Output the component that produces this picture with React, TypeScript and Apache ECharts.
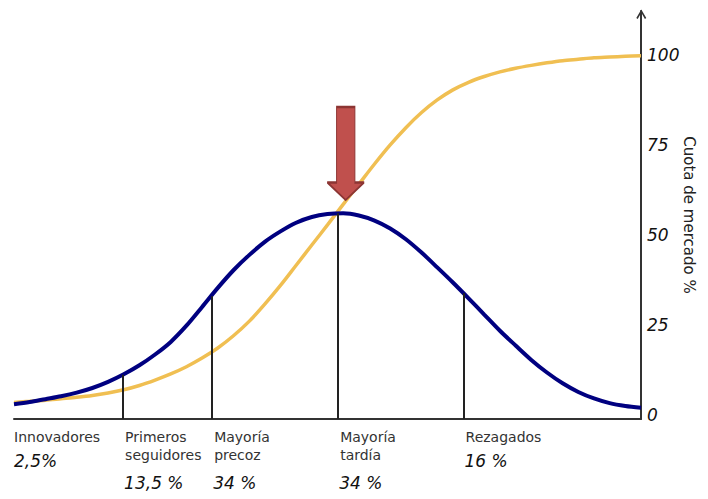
import React, { useEffect, useRef } from "react";
import * as echarts from "echarts";

// Time axis samples (0-100)
const TIME = [0, 2.5, 5, 7.5, 10, 12.5, 15, 17.5, 20, 22.5, 25, 27.5, 30, 32.5, 35, 37.5, 40, 42.5, 45, 47.5, 50, 52.5, 55, 57.5, 60, 62.5, 65, 67.5, 70, 72.5, 75, 77.5, 80, 82.5, 85, 87.5, 90, 92.5, 95, 97.5, 100];
// Adopter distribution curve (bell)
const ADOPTERS = [3.0, 3.6, 4.4, 5.2, 6.2, 7.5, 9.2, 11.3, 13.8, 16.8, 20.3, 24.8, 30.0, 35.3, 40.2, 44.4, 48.1, 51.0, 53.4, 55.0, 55.8, 56.0, 55.4, 54.0, 51.8, 48.8, 45.1, 41.0, 36.8, 32.4, 27.9, 23.4, 19.3, 15.3, 11.8, 8.8, 6.4, 4.6, 3.3, 2.5, 2.0];
// Cumulative market share (S curve)
const MARKET_SHARE = [3.5, 3.8, 4.1, 4.5, 4.9, 5.4, 6.1, 7.0, 8.2, 9.7, 11.4, 13.4, 15.8, 18.6, 22.0, 26.0, 30.8, 36.0, 41.6, 47.2, 52.8, 58.5, 64.1, 69.7, 75.0, 79.8, 84.0, 87.5, 90.3, 92.4, 94.0, 95.3, 96.3, 97.1, 97.8, 98.4, 98.8, 99.2, 99.4, 99.6, 99.8];

// Segments
const SEG_START = [0, 17.4, 31.6, 51.7, 71.7];
const SEG_NAMES = ["Innovadores", "Primeros\nseguidores", "Mayoría\nprecoz", "Mayoría\ntardía", "Rezagados"];
const SEG_SHARES = ["2,5%", "13,5 %", "34 %", "34 %", "16 %"];
// boundary lines (x, height on the bell curve)
const DIV_X = [17.4, 31.6, 51.7, 71.7];
const DIV_Y = [11.2, 33.0, 56.0, 33.8];

const Y_TICKS = [0, 25, 50, 75, 100];
const ARROW_AT = [52.9, 59.7];

const Y_MIN = -1.11;
const Y_MAX = 112.2;

export default function App() {
  const ref = useRef<HTMLDivElement>(null);
  useEffect(() => {
    document.body.style.margin = "0";
    const chart = echarts.init(ref.current!, null, { renderer: "svg" });
    const font = "DejaVu Sans";
    const option: any = {
      animation: false,
      backgroundColor: "#ffffff",
      grid: { left: 14, right: 67, top: 11, bottom: 80, containLabel: false, outerBoundsMode: "none" },
      xAxis: {
        type: "value",
        min: 0,
        max: 100,
        axisLine: { onZero: false, lineStyle: { color: "#333", width: 2 } },
        axisTick: { show: false },
        splitLine: { show: false },
        axisLabel: {
          customValues: SEG_START,
          align: "left",
          verticalAlign: "top",
          margin: 9,
          formatter: (v: number) => {
            const i = SEG_START.indexOf(v);
            if (i < 0) return "";
            const two = SEG_NAMES[i].includes("\n");
            const sfx = i === 0 ? "" : "s";
            const names = SEG_NAMES[i].split("\n").map((s) => `{n${sfx}|${s}}`).join("\n");
            return `${names}\n{${two ? "p2" : "p1"}${sfx}|${SEG_SHARES[i]}}`;
          },
          rich: {
            n: { fontFamily: font, fontSize: 14, color: "#333", lineHeight: 18 },
            ns: { fontFamily: font, fontSize: 14, color: "#333", lineHeight: 18, padding: [0, 0, 0, 2] },
            p1: { fontFamily: font, fontSize: 17, fontStyle: "italic", color: "#111", lineHeight: 30 },
            p1s: { fontFamily: font, fontSize: 17, fontStyle: "italic", color: "#111", lineHeight: 30, padding: [0, 0, 0, 1] },
            p2s: { fontFamily: font, fontSize: 17, fontStyle: "italic", color: "#111", lineHeight: 38, padding: [0, 0, 0, 1] },
          },
        },
      },
      yAxis: {
        type: "value",
        position: "right",
        min: Y_MIN,
        max: Y_MAX,
        name: "Cuota de mercado %",
        nameLocation: "middle",
        nameRotate: -90,
        nameGap: 40,
        nameMoveOverlap: false,
        nameTextStyle: { fontFamily: font, fontSize: 15, color: "#222" },
        axisLine: { show: true, onZero: false, lineStyle: { color: "#333", width: 2 } },
        axisTick: { show: false },
        splitLine: { show: false },
        axisLabel: {
          customValues: Y_TICKS,
          fontFamily: font,
          fontSize: 17,
          fontStyle: "italic",
          color: "#111",
          margin: 6,
        },
      },
      graphic: [
        {
          type: "polyline",
          shape: { points: [[637, 18.5], [641.3, 11], [645.6, 18.5]] },
          style: { stroke: "#333", lineWidth: 1.6, fill: "none" },
          z: 10,
        },
      ],
      series: [
        {
          type: "line",
          data: TIME.map((x, i) => [x, MARKET_SHARE[i]]),
          smooth: 0.3,
          showSymbol: false,
          lineStyle: { color: "#f0bf52", width: 3.5 },
          z: 2,
        },
        {
          type: "line",
          data: TIME.map((x, i) => [x, ADOPTERS[i]]),
          smooth: 0.3,
          showSymbol: false,
          lineStyle: { color: "#000080", width: 4 },
          z: 3,
          markLine: {
            silent: true,
            symbol: "none",
            label: { show: false },
            lineStyle: { color: "#222", width: 2, type: "solid" },
            data: DIV_X.map((x, i) => [
              { coord: [x, Y_MIN] },
              { coord: [x, DIV_Y[i]] },
            ]),
          },
        },
        {
          type: "line",
          data: [],
          z: 5,
          markPoint: {
            silent: true,
            z: 5,
            symbol: "path://M9.4 0 L27.7 0 L27.7 75.4 L37 75.4 L18.5 93 L0 75.4 L9.4 75.4 Z",
            symbolSize: [37, 93],
            symbolOffset: [0, "-50%"],
            label: { show: false },
            itemStyle: { color: "#c0504d", borderColor: "#8c3533", borderWidth: 1.5 },
            data: [{ coord: ARROW_AT }],
          },
        },
      ],
    };
    chart.setOption(option);
    return () => chart.dispose();
  }, []);
  return <div ref={ref} style={{ width: 708, height: 499 }} />;
}
